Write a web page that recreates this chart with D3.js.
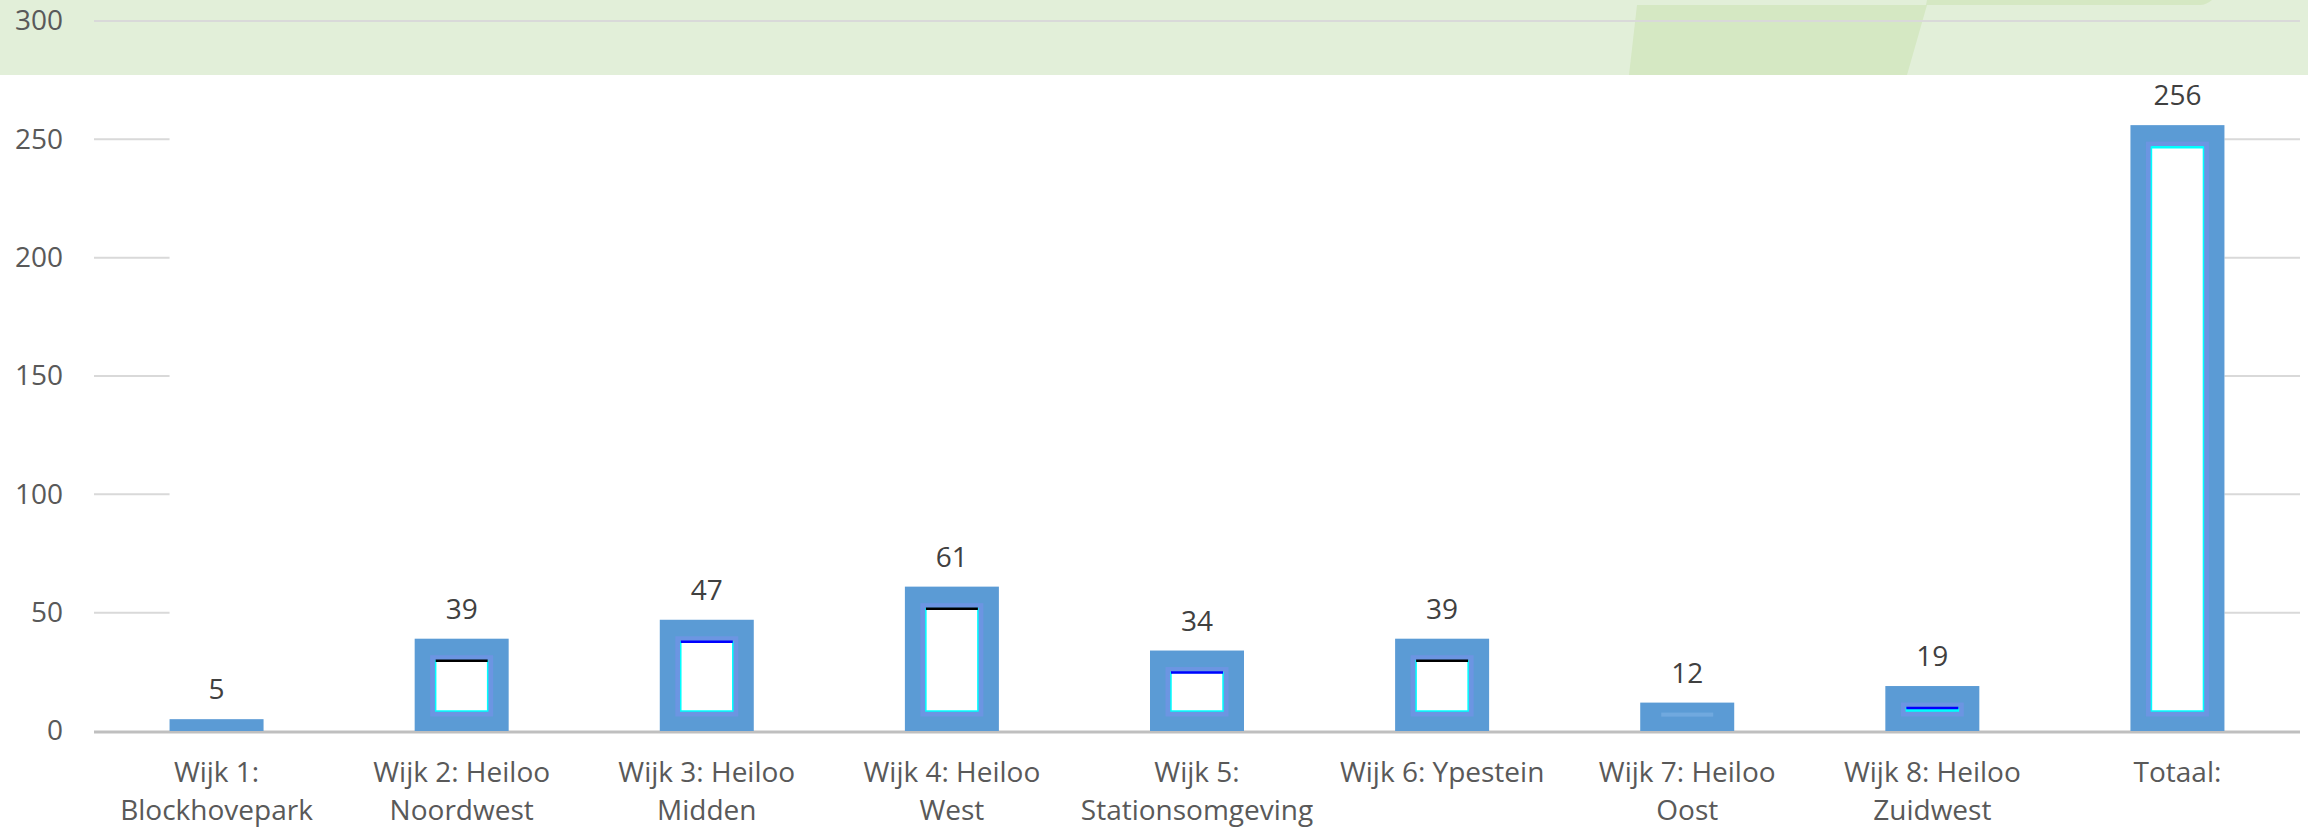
<!DOCTYPE html>
<html>
<head>
<meta charset="utf-8">
<script src="https://cdn.jsdelivr.net/npm/d3@7"></script>
<style>
  body { margin: 0; background: #fff; }
  svg { display: block; }
</style>
</head>
<body>
<div id="my_dataviz"></div>
<script>
// data
var wijken = ["Wijk 1: Blockhovepark", "Wijk 2: Heiloo Noordwest", "Wijk 3: Heiloo Midden",
  "Wijk 4: Heiloo West", "Wijk 5: Stationsomgeving", "Wijk 6: Ypestein",
  "Wijk 7: Heiloo Oost", "Wijk 8: Heiloo Zuidwest", "Totaal:"];
var aantallen = [5, 39, 47, 61, 34, 39, 12, 19, 256];
var yTicks = [0, 50, 100, 150, 200, 250, 300];

// edge colour of the inner white box (rendering artefact in the original)
var topEdge = ["none", "#000", "#0000ff", "#000", "#0000ff", "#000", "none", "#0000ff", "#00ffff"];

var W = 2308, H = 827;
var margin = {top: 21, left: 94, right: 8, bottom: 96};
var font = "'Open Sans', 'Noto Sans', sans-serif";

var svg = d3.select("#my_dataviz")
  .append("svg")
  .attr("width", W)
  .attr("height", H);

var x = d3.scaleBand()
  .domain(wijken)
  .range([margin.left, W - margin.right])
  .padding(0);

var y = d3.scaleLinear()
  .domain([0, 300])
  .range([H - margin.bottom, margin.top]);

var barW = 94;
var barX = function(i) { return x(wijken[i]) + (x.bandwidth() - barW) / 2; };

// green header band
var band = svg.append("g");
band.append("rect")
  .attr("x", 0).attr("y", 0)
  .attr("width", W).attr("height", 75)
  .attr("fill", "#e2efd9");
band.append("path")
  .attr("d", "M1637,5 L1927,5 L1907,75 L1629,75 Z")
  .attr("fill", "#d5e8c3");
band.append("path")
  .attr("d", "M1927,0 L2212,0 Q2206,5 2200,5 L1926,5 Z")
  .attr("fill", "#d5e8c3");

// gridlines
svg.append("g")
  .selectAll("line")
  .data(yTicks.filter(function(d) { return d > 0; }))
  .enter()
  .append("line")
    .attr("x1", margin.left)
    .attr("x2", W - margin.right)
    .attr("y1", function(d) { return y(d); })
    .attr("y2", function(d) { return y(d); })
    .style("stroke", "#d9d9d9")
    .style("stroke-width", 2);

// white block that hides the gridlines between first and last bar
svg.append("rect")
  .attr("x", barX(0))
  .attr("y", 75)
  .attr("width", barX(wijken.length - 1) + barW - barX(0))
  .attr("height", y(0) - 77)
  .attr("fill", "#fff");

// baseline
svg.append("line")
  .attr("x1", margin.left)
  .attr("x2", W - margin.right)
  .attr("y1", y(0) + 1)
  .attr("y2", y(0) + 1)
  .style("stroke", "#bfbfbf")
  .style("stroke-width", 3);

// y axis
svg.append("g")
  .attr("transform", "translate(" + margin.left + ",0)")
  .style("font-family", font)
  .style("font-size", "28px")
  .call(d3.axisLeft(y).tickValues(yTicks).tickSize(0).tickPadding(31))
  .call(function(g) { g.select(".domain").remove(); })
  .selectAll("text")
    .attr("fill", "#595959");

// bars (bound by index so equal values stay apart)
var bars = svg.append("g")
  .selectAll("g")
  .data(d3.range(aantallen.length))
  .enter()
  .append("g");

bars.append("rect")
  .attr("x", function(i) { return barX(i); })
  .attr("y", function(i) { return y(aantallen[i]); })
  .attr("width", barW)
  .attr("height", function(i) { return y(0) - y(aantallen[i]); })
  .attr("fill", "#5b9bd5");

// inner white boxes
bars.filter(function(i) { return y(0) - y(aantallen[i]) > 40; })
  .each(function(i) {
    var g = d3.select(this);
    var x0 = barX(i) + 21;
    var y0 = y(aantallen[i]) + 22;
    var h = Math.max(2, (y(0) - 20) - y0);
    var w = barW - 42;
    // soft halo
    g.append("rect")
      .attr("x", x0 - 3).attr("y", y0 - 3)
      .attr("width", w + 6).attr("height", h + 6)
      .attr("fill", "none")
      .style("stroke", "#7d8ff0")
      .style("stroke-width", 5)
      .style("opacity", 0.5);
    g.append("rect")
      .attr("x", x0).attr("y", y0)
      .attr("width", w).attr("height", h)
      .attr("fill", h > 4 ? "#fff" : "#00ffff")
      .style("stroke", "#00ffff")
      .style("stroke-width", 1.5);
    g.append("line")
      .attr("x1", x0).attr("x2", x0 + w)
      .attr("y1", y0).attr("y2", y0)
      .style("stroke", topEdge[i])
      .style("stroke-width", 2.5);
  });

// faint inner line in the small bar
bars.filter(function(i) { return aantallen[i] === 12; })
  .append("rect")
  .attr("x", function(i) { return barX(i) + 21; })
  .attr("y", function(i) { return y(aantallen[i]) + 10; })
  .attr("width", barW - 42)
  .attr("height", 4)
  .attr("fill", "#7fb3e6")
  .style("opacity", 0.6);

// data labels
bars.append("text")
  .attr("x", function(i) { return barX(i) + barW / 2; })
  .attr("y", function(i) { return y(aantallen[i]) - 20; })
  .attr("text-anchor", "middle")
  .style("font-family", font)
  .style("font-size", "28px")
  .attr("fill", "#404040")
  .text(function(i) { return aantallen[i]; });

// x axis
var xAxis = svg.append("g")
  .attr("transform", "translate(0," + y(0) + ")")
  .style("font-family", font)
  .style("font-size", "28px")
  .call(d3.axisBottom(x).tickSize(0))
  .call(function(g) { g.select(".domain").remove(); });

xAxis.selectAll("text")
  .attr("fill", "#595959")
  .each(function(label) {
    var text = d3.select(this);
    var words = label.split(" ");
    var lines = [], line = [];
    text.text(null).attr("y", 0).attr("dy", null);
    var tspan = text.append("tspan");
    words.forEach(function(wd) {
      line.push(wd);
      tspan.text(line.join(" "));
      if (tspan.node().getComputedTextLength() > 235 && line.length > 1) {
        line.pop();
        lines.push(line.join(" "));
        line = [wd];
      }
    });
    lines.push(line.join(" "));
    tspan.remove();
    lines.forEach(function(l, k) {
      text.append("tspan")
        .attr("x", 0)
        .attr("y", 51 + k * 38)
        .text(l);
    });
  });
</script>
</body>
</html>
